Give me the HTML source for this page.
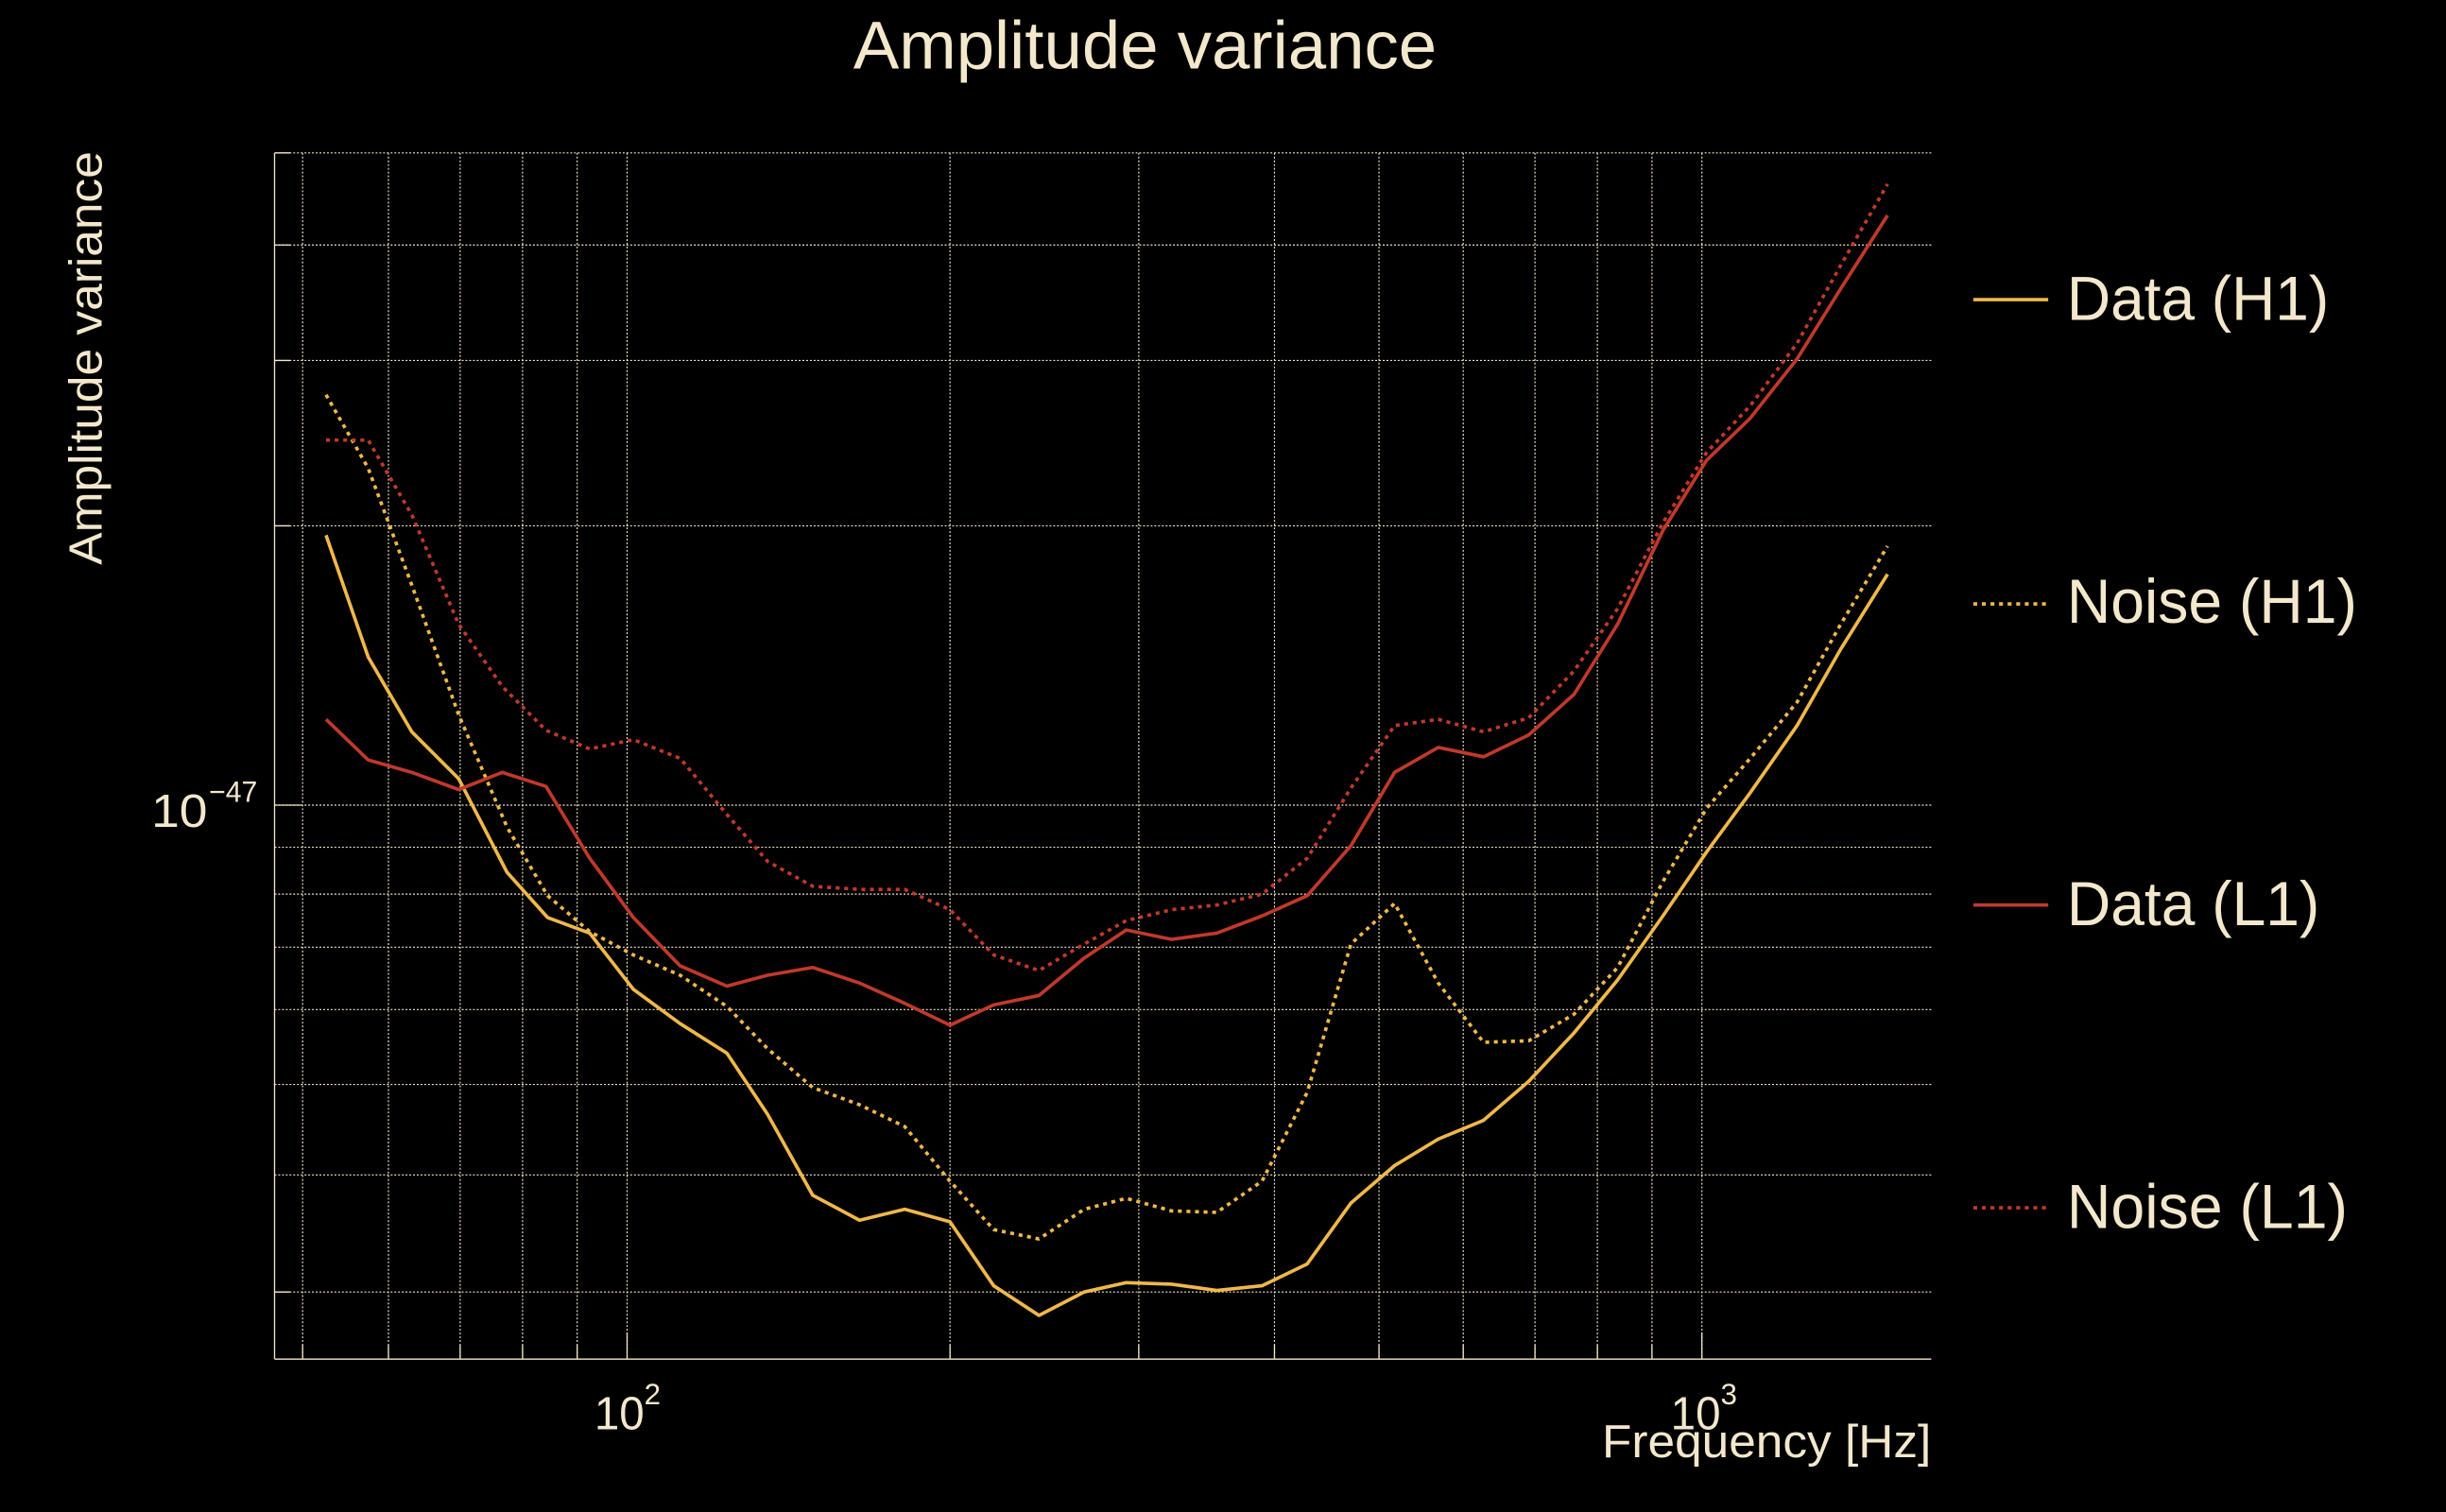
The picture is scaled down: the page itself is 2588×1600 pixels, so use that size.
<!DOCTYPE html>
<html><head><meta charset="utf-8"><style>
html,body{margin:0;padding:0;background:#000;width:2588px;height:1600px;overflow:hidden}
svg{display:block}
text{font-family:"Liberation Sans",sans-serif;fill:#f3e8cc}
</style></head><body>
<svg width="2588" height="1600" viewBox="0 0 1568 969" preserveAspectRatio="none" xmlns="http://www.w3.org/2000/svg">
<rect width="1568" height="969" fill="#000"/>
<g stroke="#f3e8cc" stroke-width="0.7" stroke-dasharray="1.2,1.2" fill="none">
<!-- horizontal grid -->
<line x1="176" x2="1238" y1="98" y2="98"/>
<line x1="176" x2="1238" y1="157" y2="157"/>
<line x1="176" x2="1238" y1="231" y2="231"/>
<line x1="176" x2="1238" y1="337" y2="337"/>
<line x1="176" x2="1238" y1="516" y2="516"/>
<line x1="176" x2="1238" y1="543" y2="543"/>
<line x1="176" x2="1238" y1="573" y2="573"/>
<line x1="176" x2="1238" y1="607" y2="607"/>
<line x1="176" x2="1238" y1="647" y2="647"/>
<line x1="176" x2="1238" y1="695" y2="695"/>
<line x1="176" x2="1238" y1="753" y2="753"/>
<line x1="176" x2="1238" y1="828" y2="828"/>
<!-- vertical grid -->
<line x1="194" x2="194" y1="98" y2="871"/>
<line x1="249" x2="249" y1="98" y2="871"/>
<line x1="295" x2="295" y1="98" y2="871"/>
<line x1="335" x2="335" y1="98" y2="871"/>
<line x1="370" x2="370" y1="98" y2="871"/>
<line x1="402" x2="402" y1="98" y2="871"/>
<line x1="609" x2="609" y1="98" y2="871"/>
<line x1="730" x2="730" y1="98" y2="871"/>
<line x1="817" x2="817" y1="98" y2="871"/>
<line x1="884" x2="884" y1="98" y2="871"/>
<line x1="938" x2="938" y1="98" y2="871"/>
<line x1="984" x2="984" y1="98" y2="871"/>
<line x1="1024" x2="1024" y1="98" y2="871"/>
<line x1="1059" x2="1059" y1="98" y2="871"/>
<line x1="1091" x2="1091" y1="98" y2="871"/>
</g>
<g stroke="#f3e8cc" stroke-width="0.8" fill="none">
<line x1="176" x2="176" y1="98" y2="871"/>
<line x1="176" x2="1238" y1="871" y2="871"/>
<line x1="176" x2="193" y1="516" y2="516"/>
<line x1="176" x2="186" y1="98" y2="98"/>
<line x1="176" x2="186" y1="157" y2="157"/>
<line x1="176" x2="186" y1="231" y2="231"/>
<line x1="176" x2="186" y1="337" y2="337"/>
<line x1="176" x2="186" y1="828" y2="828"/>
<line x1="402" x2="402" y1="854" y2="871"/>
<line x1="1091" x2="1091" y1="854" y2="871"/>
<line x1="194" x2="194" y1="862" y2="871"/>
<line x1="249" x2="249" y1="862" y2="871"/>
<line x1="295" x2="295" y1="862" y2="871"/>
<line x1="335" x2="335" y1="862" y2="871"/>
<line x1="370" x2="370" y1="862" y2="871"/>
<line x1="609" x2="609" y1="862" y2="871"/>
<line x1="730" x2="730" y1="862" y2="871"/>
<line x1="817" x2="817" y1="862" y2="871"/>
<line x1="884" x2="884" y1="862" y2="871"/>
<line x1="938" x2="938" y1="862" y2="871"/>
<line x1="984" x2="984" y1="862" y2="871"/>
<line x1="1024" x2="1024" y1="862" y2="871"/>
<line x1="1059" x2="1059" y1="862" y2="871"/>
</g>
<g fill="none" stroke-width="2.2" stroke-linejoin="round">
<polyline stroke="#f0b84a" points="209,343 236,421 264,469 294,499 325,559 351,588 378,598 406,634 436,656 466,675 492,714 521,766 551,782 580,775 609,783 637,824 666,843 695,828 722,822 751,823 780,827 809,824 838,810 866,771 894,747 922,730 951,718 980,693 1009,662 1037,628 1066,587 1094,546 1122,508 1152,465 1180,416 1210,368"/>
<polyline stroke="#f0b84a" stroke-dasharray="2.5,3" points="209,253 236,300 264,375 294,458 325,530 351,574 378,597 406,612 436,625 466,645 492,672 521,697 551,708 580,722 609,757 637,788 666,794 695,775 722,768 751,776 780,777 809,757 838,700 866,605 894,579 922,630 951,668 980,667 1009,650 1037,620 1066,565 1094,518 1122,486 1152,450 1180,400 1210,350"/>
<polyline stroke="#c0392b" points="209,461 236,487 264,495 294,506 322,495 350,504 378,550 406,588 436,619 466,632 492,625 521,620 551,630 580,643 609,657 637,644 666,638 695,614 722,596 751,602 780,598 809,587 838,574 866,542 894,495 922,479 951,485 980,471 1009,445 1037,400 1066,340 1094,295 1122,268 1152,230 1180,185 1210,138"/>
<polyline stroke="#c0392b" stroke-dasharray="2.5,3" points="209,282 236,282 264,330 294,400 322,440 350,468 378,480 406,474 436,486 466,522 492,552 521,568 551,570 580,570 609,583 637,612 666,622 695,605 722,590 751,583 780,580 809,573 838,550 866,505 894,465 922,461 951,469 980,460 1009,430 1037,390 1066,335 1094,290 1122,260 1152,220 1180,170 1210,118"/>
</g>
<!-- legend -->
<g fill="none" stroke-width="2.2">
<line x1="1265" x2="1313" y1="192" y2="192" stroke="#f0b84a"/>
<line x1="1265" x2="1313" y1="387" y2="387" stroke="#f0b84a" stroke-dasharray="2.5,3"/>
<line x1="1265" x2="1313" y1="580" y2="580" stroke="#c0392b"/>
<line x1="1265" x2="1313" y1="774" y2="774" stroke="#c0392b" stroke-dasharray="2.5,3"/>
</g>
<text x="1325" y="205" font-size="40" textLength="168" lengthAdjust="spacingAndGlyphs">Data (H1)</text>
<text x="1325" y="399" font-size="40" textLength="186" lengthAdjust="spacingAndGlyphs">Noise (H1)</text>
<text x="1325" y="593" font-size="40" textLength="162" lengthAdjust="spacingAndGlyphs">Data (L1)</text>
<text x="1325" y="787" font-size="40" textLength="180" lengthAdjust="spacingAndGlyphs">Noise (L1)</text>
<!-- title & labels -->
<text x="547" y="44" font-size="43" textLength="374" lengthAdjust="spacingAndGlyphs">Amplitude variance</text>
<text transform="translate(65,362) rotate(-90)" font-size="30" textLength="265" lengthAdjust="spacingAndGlyphs">Amplitude variance</text>
<text x="1238" y="934" font-size="30" text-anchor="end" textLength="211" lengthAdjust="spacingAndGlyphs">Frequency [Hz]</text>
<text x="97" y="530" font-size="30" textLength="36" lengthAdjust="spacingAndGlyphs">10</text>
<text x="134" y="514" font-size="19" textLength="31" lengthAdjust="spacingAndGlyphs">−47</text>
<text x="381" y="916" font-size="30" textLength="32" lengthAdjust="spacingAndGlyphs">10</text>
<text x="413" y="900" font-size="19">2</text>
<text x="1071" y="916" font-size="30" textLength="32" lengthAdjust="spacingAndGlyphs">10</text>
<text x="1103" y="900" font-size="19">3</text>
</svg>
</body></html>
